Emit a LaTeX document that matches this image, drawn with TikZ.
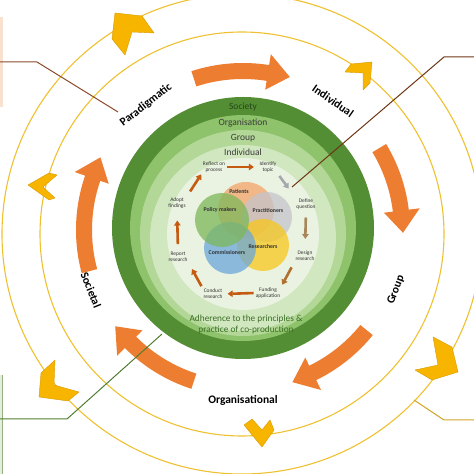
\documentclass[tikz,border=0pt]{standalone}
\usepackage{fontspec}
\setmainfont{Carlito}
\usetikzlibrary{arrows.meta}

\definecolor{goldline}{HTML}{EFC030}
\definecolor{chevgold}{HTML}{F7B500}
\definecolor{chevedge}{HTML}{D89A00}
\definecolor{arroworange}{HTML}{ED7D31}
\definecolor{societygreen}{HTML}{538D34}
\definecolor{orggreen}{HTML}{8EC26B}
\definecolor{groupgreen}{HTML}{B2D796}
\definecolor{indgreen}{HTML}{D1E7C0}
\definecolor{cyclegreen}{HTML}{EAF3E1}
\definecolor{societytext}{HTML}{27491A}
\definecolor{bandtext}{HTML}{3C3C3C}
\definecolor{adherencetext}{HTML}{3B6E26}
\definecolor{cycorange}{HTML}{C55A11}
\definecolor{cycgray}{HTML}{A6A6AE}
\definecolor{cyctan}{HTML}{A8865A}
\definecolor{cycbrown}{HTML}{B0702F}
\definecolor{leaderbrown}{HTML}{8B4A2B}
\definecolor{leaderdark}{HTML}{6E3514}
\definecolor{leadergreen}{HTML}{4E7D2E}
\definecolor{leadergold}{HTML}{D4A52A}
\definecolor{patientsorange}{HTML}{F4A46A}
\definecolor{practgray}{HTML}{C4C4CC}
\definecolor{resyellow}{HTML}{F8C81C}
\definecolor{commblue}{HTML}{6AA6DA}
\definecolor{policygreen}{HTML}{7CB85A}
\definecolor{peach}{HTML}{F8E2CF}
\definecolor{palegreen}{HTML}{E4EEDC}

\tikzset{
  ring/.style={draw=goldline, line width=1.1pt},
  chevron/.style={fill=chevgold, draw=chevedge, line width=0.4pt, line join=round},
  bigarrow/.style={fill=arroworange},
  phase/.style={font=\bfseries\fontsize{11.5}{13}\selectfont, text=black},
  band/.style={font=\fontsize{9.5}{11}\selectfont, text=bandtext},
  actor/.style={font=\bfseries\fontsize{5.8}{7}\selectfont, text=black!80},
  actorset/.style={fill opacity=0.75},
  stage/.style={font=\fontsize{5.4}{6}\selectfont, align=center, inner sep=1pt, text=black!80},
  cyc/.style={line width=2.6pt, -{Triangle[width=6.5pt,length=5pt]}},
  leader/.style={line width=1pt},
}

% start angle, tip angle (clockwise)
\newcommand{\orangearrow}[2]{%
  \fill[bigarrow] (#1:167pt) arc[start angle=#1, end angle=#2+8, radius=167pt]
    -- (#2+8:178pt) -- (#2:160pt) -- (#2+8:142pt) -- (#2+8:151pt)
    arc[start angle=#2+8, end angle=#1, radius=151pt] -- cycle;}

\begin{document}
\begin{tikzpicture}[x=1pt,y=1pt]
\useasboundingbox (0,0) rectangle (474,474);

% boxes cut off at the left edge
\fill[peach] (0,367) rectangle (3,457);
\fill[palegreen] (0,0) rectangle (3,99);
\draw[leadergreen!60, line width=0.4pt] (2.5,0) -- (2.5,99);

% yellow rings
\draw[ring] (242,240) circle (240pt);
\draw[ring] (242,240) circle (202pt);

% chevrons on the rings
\filldraw[chevron] (115,461) -- (142,458) -- (154,441) -- (132,442) -- (125,419) -- (112,435) -- cycle;
\filldraw[chevron] (28,289) -- (49,301) -- (57,299) -- (43,287) -- (55,276) -- (49,274) -- cycle;
\filldraw[chevron] (372,412) -- (370,391) -- (363,384) -- (363,401) -- (345,402) -- (351,410) -- cycle;
\filldraw[chevron] (458,102) -- (452,127) -- (433,137) -- (438,109) -- (415,104) -- (432,94) -- cycle;
\filldraw[chevron] (262,27) -- (244,49) -- (252,55) -- (262,44) -- (270,54) -- (274,44) -- cycle;
\filldraw[chevron] (39,77) -- (41,101) -- (55,114) -- (54,89) -- (79,82) -- (68,73) -- cycle;

% big orange arrows
\begin{scope}[shift={(243,244)}]
  \orangearrow{108}{73}
  \orangearrow{31}{-1}
  \orangearrow{-39}{-72}
  \orangearrow{-108}{-143}
  \orangearrow{195}{153}
\end{scope}

% green levels
\fill[societygreen] (243,246) circle (131pt);
\fill[orggreen] (243,246) circle (113pt);
\fill[groupgreen] (243,241) circle (103pt);
\fill[indgreen] (243,236) circle (93pt);
\fill[cyclegreen] (243,240) circle (76pt);

\node[band, text=societytext] (society) at (243,367) {Society};
\node[band] (organisation) at (243,351) {Organisation};
\node[band] (grouplevel) at (243,336) {Group};
\node[band] (individuallevel) at (243,322) {Individual};
\node[band, text=adherencetext, align=center, font=\fontsize{9.3}{11}\selectfont] (adherence) at (246,149)
  {Adherence to the principles \&\\practice of co-production};

% actors
\fill[patientsorange, actorset] (246,264) circle (28pt);
\fill[practgray, actorset] (267,257) circle (25pt);
\fill[resyellow, actorset] (263,229) circle (26pt);
\fill[commblue, actorset] (230,226) circle (26pt);
\fill[policygreen, actorset] (222,254) circle (27pt);
\node[actor] (patients) at (239,283) {Patients};
\node[actor] (policy) at (220,264) {Policy makers};
\node[actor] (practitioners) at (268,264) {Practitioners};
\node[actor] (commissioners) at (227,222) {Commissioners};
\node[actor] (researchers) at (263,228) {Researchers};

% research cycle
\node[stage] (reflect) at (214,307) {Reflect on\\process};
\node[stage] (identify) at (268,307) {Identify\\topic};
\node[stage] (define) at (306,270) {Define\\question};
\node[stage] (design) at (305,218) {Design\\research};
\node[stage] (funding) at (268,181) {Funding\\application};
\node[stage] (conduct) at (213,180) {Conduct\\research};
\node[stage] (report) at (178,217) {Report\\research};
\node[stage] (adopt) at (177,271) {Adopt\\findings};

\draw[cyc, cycorange, shorten <=1pt, shorten >=4.5pt] (reflect.east) -- (identify.west);
\draw[cyc, cycgray, shorten <=3pt, shorten >=11pt] (identify.south east) -- (define.north west);
\draw[cyc, cyctan, shorten <=7pt, shorten >=11pt] (define.south) -- (design.north);
\draw[cyc, cycbrown, shorten <=6pt, shorten >=2pt] (design.south west) -- (funding.north east);
\draw[cyc, cycorange, shorten <=1pt, shorten >=4pt] (funding.west) -- (conduct.east);
\draw[cyc, cycorange, shorten <=2pt, shorten >=7pt] (conduct.north west) -- (report.south east);
\draw[cyc, cycorange, shorten <=7pt, shorten >=11pt] (report.north) -- (adopt.south);
\draw[cyc, cycorange, shorten <=6pt, shorten >=1pt] (adopt.north east) -- (reflect.south west);

% phases
\node[phase, rotate=38] (paradigmatic) at (146,369) {Paradigmatic};
\node[phase, rotate=-35] (individual) at (333,373) {Individual};
\node[phase, rotate=69] (group) at (396,184) {Group};
\node[phase] (organisational) at (243,74) {Organisational};
\node[phase, rotate=-68] (societal) at (91,184) {Societal};

% leader lines
\coordinate (paratag) at (0,412);
\coordinate (parabend) at (37,412);
\coordinate (paratip) at (118,362);
\coordinate (topictag) at (474,417);
\coordinate (topicbend) at (444,417);
\coordinate (topictip) at (292,287);
\coordinate (greentag) at (0,55);
\coordinate (greenbend) at (67,55);
\coordinate (greentip) at (162,140);
\coordinate (goldtag) at (474,54);
\coordinate (goldbend) at (444,54);
\coordinate (goldtip) at (414,74);
\draw[leader, leaderbrown] (paratag) -- (parabend) -- (paratip);
\draw[leader, leaderdark] (topictag) -- (topicbend) -- (topictip);
\draw[leader, leadergreen] (greentag) -- (greenbend) -- (greentip);
\draw[leader, leadergold] (goldtag) -- (goldbend) -- (goldtip);
\end{tikzpicture}
\end{document}
